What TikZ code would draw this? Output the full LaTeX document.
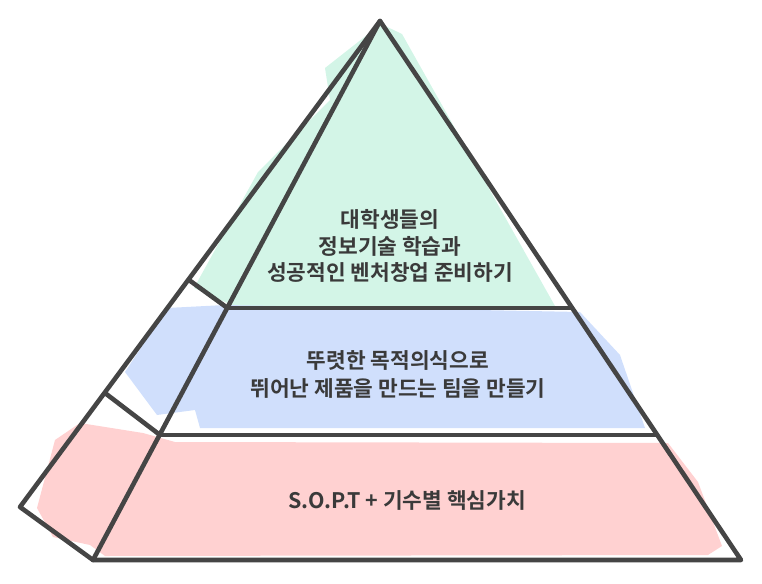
\documentclass[tikz,border=0pt]{standalone}
\usepackage{fontspec}
\setmainfont{Noto Sans CJK KR}[BoldFont={Noto Sans CJK KR Bold}]
\usepackage{xcolor}
\definecolor{tealfill}{HTML}{D3F5E7}
\definecolor{bluefill}{HTML}{D0DFFC}
\definecolor{pinkfill}{HTML}{FFD1D1}
\definecolor{ink}{HTML}{454545}
\definecolor{txtgray}{HTML}{3A3A3A}
\begin{document}
\begin{tikzpicture}[x=1pt,y=-1pt,line cap=round,line join=round,
  edge/.style={draw=ink,line width=4.6pt},
  label/.style={align=center,text=txtgray,font=\bfseries\fontsize{21.4}{26.5}\selectfont}]
\useasboundingbox (0,0) rectangle (762,583);
% corners
\coordinate (apex) at (380,21);
\coordinate (right) at (741,560);
\coordinate (front) at (93,560);
\coordinate (back) at (20,507);
\coordinate (t1) at (227.5,308);
\coordinate (t2) at (572,308);
\coordinate (m1) at (160,435);
\coordinate (m2) at (657,435);
\coordinate (b1) at (189,280);
\coordinate (b2) at (105,393);
% fills
\fill[tealfill] (325,68) -- (381,24) -- (402,34) -- (555,306) -- (234,306) -- (194,288)
  -- (258,172) -- (330,100) -- cycle;
\fill[bluefill] (125,372) -- (167,308) -- (225,305) -- (580,312) -- (620,355) -- (645,428)
  -- (200,428) -- (195,410) -- (157,415) -- cycle;
\fill[pinkfill] (55,440) -- (80,423) -- (143,433) -- (175,442) -- (668,443) -- (698,482)
  -- (722,546) -- (708,555) -- (105,556) -- (90,545) -- (53,537) -- (37,508) -- cycle;
% outline
\draw[edge] (apex) -- (right) -- (front) -- (back) -- cycle;
\draw[edge] (apex) -- (front);
\draw[edge] (t1) -- (t2);
\draw[edge] (m1) -- (m2);
\draw[edge] (t1) -- (b1);
\draw[edge] (m1) -- (b2);
% labels
\node[label] (top) at (390,246) {대학생들의\\정보기술 학습과\\성공적인 벤처창업 준비하기};
\node[label,font=\bfseries\fontsize{21.4}{28}\selectfont] (mid) at (398,374) {뚜렷한 목적의식으로\\뛰어난 제품을 만드는 팀을 만들기};
\node[label] (base) at (407,500) {S.O.P.T + 기수별 핵심가치};
\end{tikzpicture}
\end{document}
